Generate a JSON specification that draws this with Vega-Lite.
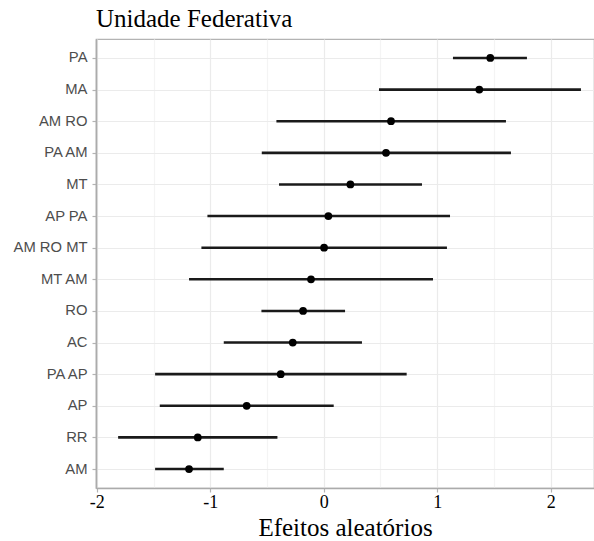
{
  "$schema": "https://vega.github.io/schema/vega-lite/v6.json",
  "autosize": "none",
  "width": 498,
  "height": 449,
  "padding": {"left": 96, "top": 39, "right": 0, "bottom": 53},
  "background": "white",
  "title": {
    "text": "Unidade Federativa",
    "anchor": "start",
    "frame": "group",
    "font": "Liberation Serif",
    "fontSize": 25,
    "fontWeight": "normal",
    "color": "#000000",
    "baseline": "bottom",
    "offset": 8,
    "dy": 26
  },
  "config": {
    "view": {"stroke": "#B3B3B3", "strokeWidth": 1.2},
    "axis": {
      "domainColor": "#ABABAB",
      "domainWidth": 1.6,
      "tickColor": "#B3B3B3",
      "tickSize": 4,
      "tickWidth": 1.2
    },
    "axisX": {
      "labelFont": "Liberation Serif",
      "labelFontSize": 18,
      "labelColor": "#000000",
      "labelPadding": 1,
      "labelFlush": false,
      "titleFont": "Liberation Serif",
      "titleFontSize": 25,
      "titleFontWeight": "normal",
      "titleColor": "#000000"
    },
    "axisY": {
      "labelFont": "Liberation Sans",
      "labelFontSize": 14.8,
      "labelColor": "#4D4D4D",
      "labelPadding": 5
    }
  },
  "data": {
    "values": [
      {"uf": "PA", "est": 1.468, "lo": 1.139, "hi": 1.791},
      {"uf": "MA", "est": 1.371, "lo": 0.487, "hi": 2.267},
      {"uf": "AM RO", "est": 0.593, "lo": -0.417, "hi": 1.606},
      {"uf": "PA AM", "est": 0.549, "lo": -0.546, "hi": 1.65},
      {"uf": "MT", "est": 0.235, "lo": -0.394, "hi": 0.866},
      {"uf": "AP PA", "est": 0.041, "lo": -1.025, "hi": 1.113},
      {"uf": "AM RO MT", "est": 0.003, "lo": -1.078, "hi": 1.086},
      {"uf": "MT AM", "est": -0.112, "lo": -1.187, "hi": 0.963},
      {"uf": "RO", "est": -0.182, "lo": -0.549, "hi": 0.188},
      {"uf": "AC", "est": -0.273, "lo": -0.881, "hi": 0.337},
      {"uf": "PA AP", "est": -0.379, "lo": -1.486, "hi": 0.731},
      {"uf": "AP", "est": -0.679, "lo": -1.445, "hi": 0.088},
      {"uf": "RR", "est": -1.11, "lo": -1.812, "hi": -0.408},
      {"uf": "AM", "est": -1.187, "lo": -1.486, "hi": -0.881}
    ]
  },
  "encoding": {
    "y": {
      "field": "uf",
      "type": "nominal",
      "sort": null,
      "scale": {"type": "point", "padding": 0.6},
      "axis": {
        "title": null,
        "grid": true,
        "gridColor": "#EBEBEB",
        "gridWidth": 1.2
      }
    }
  },
  "layer": [
    {
      "mark": {"type": "rule", "strokeWidth": 2.6, "color": "#1A1A1A"},
      "encoding": {
        "x": {
          "field": "lo",
          "type": "quantitative",
          "scale": {"domain": [-2.007, 2.382], "nice": false, "zero": false},
          "axis": {
            "title": "Efeitos aleatórios",
            "titleBaseline": "alphabetic",
            "titleY": 47,
            "values": [-2, -1.5, -1, -0.5, 0, 0.5, 1, 1.5, 2],
            "labelExpr": "datum.value % 1 === 0 ? ('' + datum.value) : ''",
            "grid": true,
            "gridColor": {"condition": {"test": "datum.value % 1 === 0", "value": "#EBEBEB"}, "value": "#F4F4F4"},
            "gridWidth": 1.2,
            "tickOpacity": {"condition": {"test": "datum.value % 1 === 0", "value": 1}, "value": 0}
          }
        },
        "x2": {"field": "hi"}
      }
    },
    {
      "mark": {"type": "rule", "strokeWidth": 2, "color": "#1E90FF"},
      "encoding": {"x": {"datum": 0, "type": "quantitative"}}
    },
    {
      "mark": {"type": "point", "filled": true, "size": 60, "color": "#000000", "opacity": 1},
      "encoding": {"x": {"field": "est", "type": "quantitative"}}
    }
  ]
}
